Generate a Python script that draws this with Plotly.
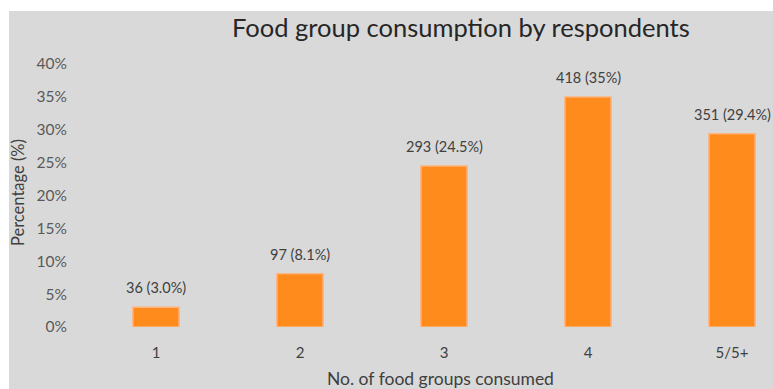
import plotly.graph_objects as go

categories = ["1", "2", "3", "4", "5/5+"]
percent = [3.0, 8.1, 24.5, 35.0, 29.4]
counts = [36, 97, 293, 418, 351]
pct_labels = ["3.0%", "8.1%", "24.5%", "35%", "29.4%"]
y_ticks = [0, 0.05, 0.10, 0.15, 0.20, 0.25, 0.30, 0.35, 0.40]

W, H = 773, 389
L, R, T, B = 84, 0, 64, 62
pw, ph = W - L - R, H - T - B

def px_x(px):
    return (px - L) / pw

def px_y(py):
    return (H - B - py) / ph

FONT = "Lato, 'Open Sans', sans-serif"

vals = [p / 100 for p in percent]
fig = go.Figure()
fig.add_trace(go.Bar(
    x=list(range(len(categories))),
    y=vals,
    width=0.32,
    marker=dict(color="#ff8b1c", line=dict(color="#ffb27a", width=1.5)),
    hoverinfo="skip",
))

annotations = []
for i, (v, c, p) in enumerate(zip(vals, counts, pct_labels)):
    annotations.append(dict(
        x=i, y=v, xref="x", yref="y", text=f"{c} ({p})", showarrow=False,
        yanchor="bottom", yshift=9, font=dict(size=14.5, color="#404040", family=FONT),
    ))

annotations.append(dict(
    x=px_x(461), y=px_y(27), xref="paper", yref="paper",
    text="Food group consumption by respondents", showarrow=False,
    xanchor="center", yanchor="middle", font=dict(size=25.5, color="#262626", family=FONT),
))
annotations.append(dict(
    x=px_x(440), y=px_y(378), xref="paper", yref="paper",
    text="No. of food groups consumed", showarrow=False,
    xanchor="center", yanchor="middle", font=dict(size=17.5, color="#404040", family=FONT),
))
annotations.append(dict(
    x=px_x(18), y=px_y(193), xref="paper", yref="paper",
    text="Percentage (%)", showarrow=False, textangle=-90,
    xanchor="center", yanchor="middle", font=dict(size=16.5, color="#404040", family=FONT),
))

fig.update_layout(
    width=W, height=H,
    margin=dict(l=L, r=R, t=T, b=B, pad=0),
    paper_bgcolor="white",
    plot_bgcolor="rgba(0,0,0,0)",
    showlegend=False,
    annotations=annotations,
    shapes=[dict(
        type="rect", xref="paper", yref="paper",
        x0=px_x(9), x1=px_x(W + 5), y0=px_y(H + 5), y1=px_y(11),
        fillcolor="#d9d9d9", line=dict(width=0), layer="below",
    )],
)
fig.update_xaxes(
    range=[-0.5, -0.5 + pw / 144.0],
    tickmode="array", tickvals=list(range(len(categories))), ticktext=categories,
    showgrid=False, zeroline=False, showline=False,
    ticks="outside", ticklen=12, tickcolor="rgba(0,0,0,0)",
    tickfont=dict(size=15, color="#404040", family=FONT),
)
fig.update_yaxes(
    range=[0, 0.4],
    tickmode="array", tickvals=y_ticks, tickformat=".0%",
    showgrid=False, zeroline=False, showline=False,
    ticks="outside", ticklen=13, tickcolor="rgba(0,0,0,0)",
    tickfont=dict(size=15.5, color="#595959", family=FONT),
)

fig.write_html(
    "out.html",
    config={"displayModeBar": False},
    post_script="document.body.style.margin='0px';document.body.style.overflow='hidden';",
)
